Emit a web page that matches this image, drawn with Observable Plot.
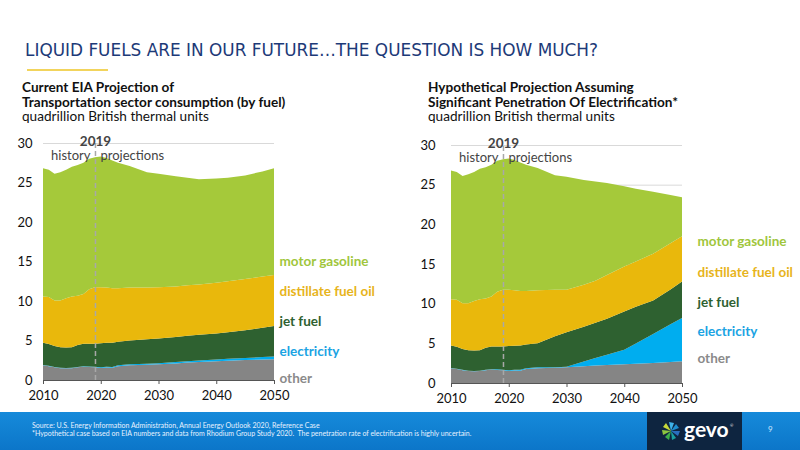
<!DOCTYPE html>
<html>
<head>
<meta charset="utf-8">
<script src="https://cdn.jsdelivr.net/npm/d3@7"></script>
<script src="https://cdn.jsdelivr.net/npm/@observablehq/plot@0.6"></script>
<style>
  html, body { margin:0; padding:0; background:#fff; }
  #page { position:relative; width:800px; height:450px; overflow:hidden; font-family: Lato, "Open Sans", sans-serif; }
  .abs { position:absolute; white-space:nowrap; }
  #title { left:25px; top:40px; font-family:"DejaVu Sans", sans-serif; font-size:16.9px; color:#1d3a78; }
  #uline { left:27px; top:69px; width:81px; height:2px; background:#f2d45c; }
  .hdr { font-size:13.6px; line-height:14px; color:#111; }
  .b { font-weight:700; }
  #footer { left:0; top:412px; width:800px; height:38px; background:linear-gradient(#168ada,#0c76c9); }
  #src { left:32px; top:421px; font-size:7px; line-height:8px; color:#e8f2ff; }
  #logo { left:647px; top:412px; width:95px; height:38px; background:#0e2540; }
  #pg { left:768px; top:424px; font-size:8px; color:#cfe6ff; }
</style>
</head>
<body>
<div id="page">
  <div id="title" class="abs">LIQUID FUELS ARE IN OUR FUTURE…THE QUESTION IS HOW MUCH?</div>
  <div id="uline" class="abs"></div>
  <div class="abs hdr b" style="left:22px; top:80px;">Current EIA Projection of</div>
  <div class="abs hdr b" style="left:22px; top:94.5px;">Transportation sector consumption (by fuel)</div>
  <div class="abs hdr" style="left:22px; top:109px;">quadrillion British thermal units</div>
  <div class="abs hdr b" style="left:428px; top:80px;">Hypothetical Projection Assuming</div>
  <div class="abs hdr b" style="left:428px; top:94.5px;">Significant Penetration Of Electrification*</div>
  <div class="abs hdr" style="left:428px; top:109px;">quadrillion British thermal units</div>
  <div id="left" class="abs" style="left:0; top:120px;"></div>
  <div id="right" class="abs" style="left:400px; top:120px;"></div>
  <div id="footer" class="abs"></div>
  <div id="src" class="abs">Source: U.S. Energy Information Administration, Annual Energy Outlook 2020, Reference Case<br>*Hypothetical case based on EIA numbers and data from Rhodium Group Study 2020.&nbsp; The penetration rate of electrification is highly uncertain.</div>
  <div id="logo" class="abs">
    <svg width="95" height="38">
      <g transform="translate(24,19)">
        <path d="M0,0 L-2,-9 L3,-8 Z" fill="#3fb3e8"/>
        <path d="M0,0 L5,-7 L8,-3 Z" fill="#1f8fd0"/>
        <path d="M0,0 L9,0 L7,5 Z" fill="#2a6fc0"/>
        <path d="M0,0 L5,7 L1,9 Z" fill="#1aa0a0"/>
        <path d="M0,0 L-2,9 L-6,6 Z" fill="#3cb04a"/>
        <path d="M0,0 L-8,4 L-9,-1 Z" fill="#8cc63f"/>
        <path d="M0,0 L-8,-4 L-5,-8 Z" fill="#c7d93a"/>
      </g>
      <text x="37" y="25" fill="#fff" font-family="Lato, sans-serif" font-weight="700" font-size="21">gevo</text>
      <text x="83" y="15" fill="#fff" font-family="Lato, sans-serif" font-size="4">®</text>
    </svg>
  </div>
  <div id="pg" class="abs">9</div>
</div>
<script>
// ---- data (quadrillion Btu, per fuel, not cumulative) ----
const years = [2010,2011,2012,2013,2014,2015,2016,2017,2018,2019,2020,2021,2022,2023,2025,2028,2030,2033,2035,2037,2040,2042,2045,2048,2050];
const fuels = ["other","electricity","jet fuel","distillate fuel oil","motor gasoline"];
const colors = ["#858585","#00adef","#2e6130","#e9b80c","#a5c93a"];
const labelColors = ["#8a8a8a","#1ba3e3","#2e6130","#e7b41c","#9fc63c"];

// Current EIA projection
const eiaOther    = [1.86,1.75,1.62,1.50,1.48,1.50,1.62,1.69,1.65,1.60,1.52,1.58,1.55,1.75,1.86,1.92,1.98,2.10,2.20,2.27,2.37,2.43,2.53,2.58,2.62];
const eiaElec     = [0.04,0.04,0.04,0.04,0.04,0.04,0.04,0.05,0.07,0.08,0.10,0.10,0.11,0.11,0.12,0.14,0.15,0.17,0.18,0.20,0.23,0.25,0.27,0.32,0.34];
const eiaJet      = [2.83,2.77,2.64,2.60,2.58,2.60,2.78,2.86,2.88,2.92,3.03,3.02,3.07,2.99,3.02,3.09,3.11,3.18,3.22,3.25,3.30,3.37,3.50,3.70,3.89];
const eiaDist     = [5.83,5.94,5.75,5.91,6.25,6.42,6.21,6.30,6.90,7.15,7.10,7.00,6.87,6.75,6.70,6.57,6.51,6.40,6.40,6.38,6.40,6.45,6.50,6.50,6.45];
const eiaGas      = [16.24,16.10,16.05,16.25,16.25,16.44,16.55,16.60,16.50,16.45,16.55,16.40,16.20,15.90,15.40,14.58,14.35,13.95,13.60,13.30,13.20,13.10,13.10,13.30,13.50];

// Hypothetical electrification case
const hypOther    = [1.86,1.75,1.62,1.50,1.48,1.50,1.62,1.69,1.65,1.60,1.52,1.58,1.55,1.75,1.86,1.92,1.98,2.10,2.20,2.27,2.37,2.43,2.53,2.65,2.73];
const hypElec     = [0.04,0.04,0.04,0.04,0.04,0.04,0.04,0.05,0.07,0.08,0.10,0.10,0.11,0.11,0.12,0.08,0.07,0.60,0.95,1.30,1.83,2.56,3.65,4.74,5.47];
const hypJet      = [2.83,2.77,2.64,2.60,2.58,2.60,2.78,2.86,2.88,2.92,3.03,3.02,3.07,2.99,3.02,3.90,4.35,4.40,4.45,4.53,4.80,4.61,4.22,4.41,4.60];
const hypDist     = [5.83,5.94,5.75,5.91,6.25,6.42,6.21,6.30,6.90,7.15,7.10,7.00,6.87,6.75,6.70,5.85,5.35,5.30,5.30,5.50,5.70,5.70,5.90,5.80,5.70];
const hypGas      = [16.24,16.10,16.05,16.25,16.25,16.44,16.55,16.60,16.50,16.45,16.55,16.40,16.20,15.90,15.40,14.45,14.25,13.20,12.50,11.60,10.10,9.20,7.80,6.10,4.90];

const yTicks = [0,5,10,15,20,25,30];
const xTicks = [2010,2020,2030,2040,2050];
const splitYear = 2019;

function toRows(series) {
  const rows = [];
  fuels.forEach((f, i) => years.forEach((yr, j) => rows.push({year: yr, fuel: f, value: series[i][j]})));
  return rows;
}

function chart(series, opts) {
  const rows = toRows(series);
  const labels = fuels.map((f, i) => ({fuel: f, y: opts.labelY[i], color: labelColors[i]}));
  return Plot.plot({
    width: 400, height: 290,
    marginLeft: opts.ml, marginRight: opts.mr, marginTop: opts.mt, marginBottom: opts.mb,
    style: {fontFamily: "Lato, 'Open Sans', sans-serif", background: "transparent", overflow: "visible"},
    x: {domain: [2010, 2050], ticks: xTicks, tickFormat: d => String(d), label: null},
    y: {domain: [0, 30], ticks: yTicks, label: null},
    color: {domain: fuels, range: colors},
    marks: [
      Plot.ruleY(yTicks, {stroke: "#d9d9d9", strokeWidth: 1}),
      Plot.areaY(rows, {x: "year", y: "value", fill: "fuel", order: fuels, curve: "linear"}),
      Plot.ruleX([splitYear], {y1: 0, y2: 30, stroke: "#a8a8a8", strokeWidth: 1.5, strokeDasharray: "5,3"}),
      Plot.ruleY([0], {stroke: "#555", strokeWidth: 1}),
      Plot.axisY({ticks: yTicks, tickSize: 0, tickPadding: opts.tp, fontSize: 13, fill: "#111", label: null}),
      Plot.axisX({ticks: xTicks, tickSize: 4, tickPadding: 6, fontSize: 13, fill: "#111", stroke: "#555", label: null, tickFormat: d => String(d)}),
      Plot.text([splitYear], {x: d => d, frameAnchor: "top", dy: -7, text: d => String(d), fontWeight: "bold", fontSize: 13.5, fill: "#444"}),
      Plot.text(["history"], {x: () => splitYear, frameAnchor: "top", dy: 7, dx: -5, textAnchor: "end", text: d => d, fontSize: 13, fill: "#444"}),
      Plot.text(["projections"], {x: () => splitYear, frameAnchor: "top", dy: 7, dx: 5, textAnchor: "start", text: d => d, fontSize: 13, fill: "#444"}),
      Plot.text(labels, {x: () => 2050, y: "y", text: "fuel", dx: opts.ldx, textAnchor: "start", fill: d => d.color, fontWeight: "bold", fontSize: 13.5})
    ]
  });
}

document.getElementById("left").appendChild(chart(
  [eiaOther, eiaElec, eiaJet, eiaDist, eiaGas],
  {ml: 43, mr: 126, mt: 23, mb: 30, tp: 11, ldx: 5, labelY: [0.25, 3.7, 7.5, 11.3, 15.1]}
));
document.getElementById("right").appendChild(chart(
  [hypOther, hypElec, hypJet, hypDist, hypGas],
  {ml: 51, mr: 118, mt: 25, mb: 27, tp: 16, ldx: 15, labelY: [3.1, 6.5, 10.2, 14.0, 17.9]}
));
</script>
</body>
</html>
